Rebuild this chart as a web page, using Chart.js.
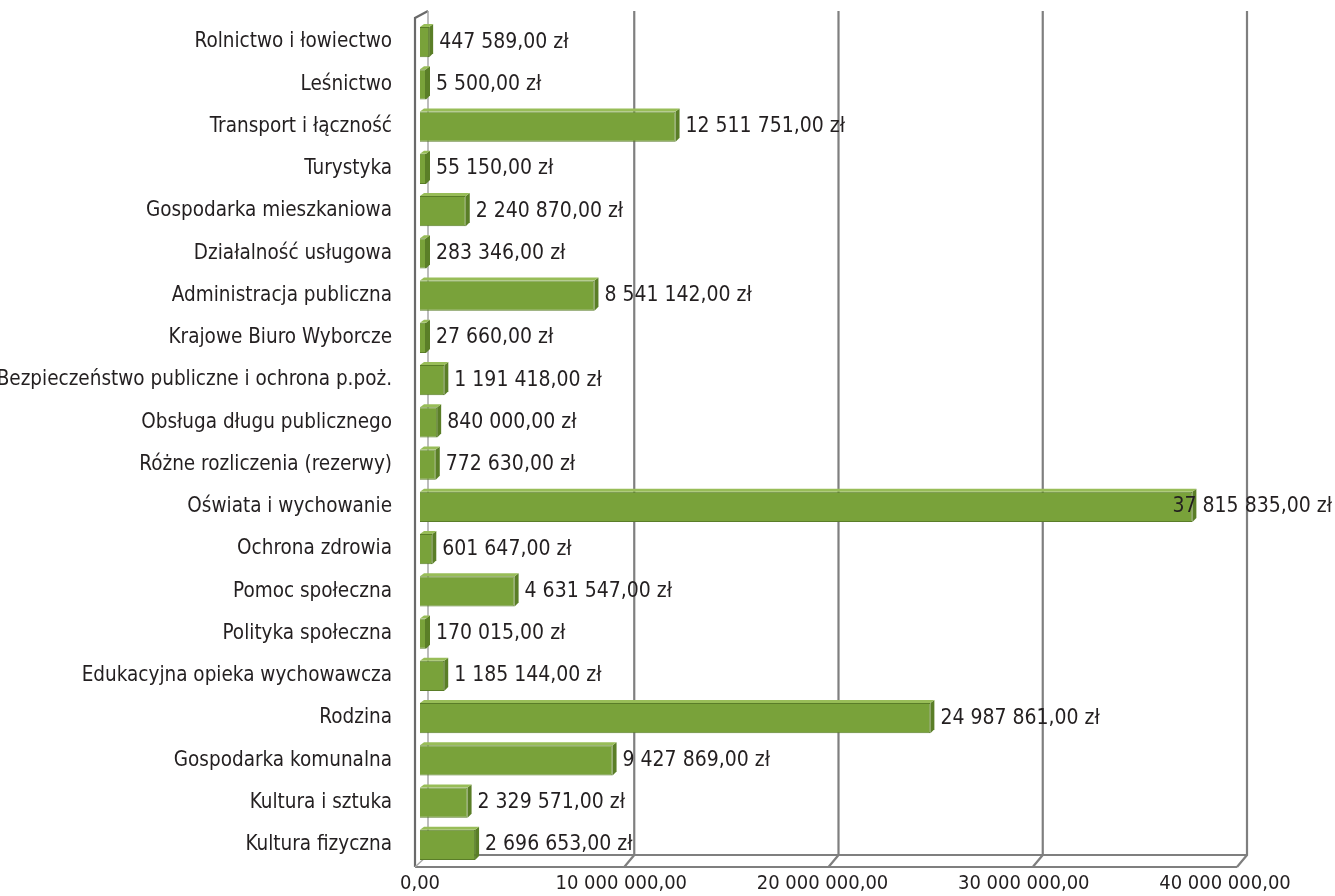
<!DOCTYPE html>
<html>
<head>
<meta charset="utf-8">
<script src="https://cdn.jsdelivr.net/npm/chart.js@4.4.1/dist/chart.umd.min.js"></script>
<style>
  html, body { margin: 0; padding: 0; background: #ffffff; }
  #wrap { width: 1335px; height: 896px; position: relative; }
</style>
</head>
<body>
<div id="wrap"><canvas id="c" width="1335" height="896"></canvas></div>
<script>
const categories = [
  "Rolnictwo i łowiectwo",
  "Leśnictwo",
  "Transport i łączność",
  "Turystyka",
  "Gospodarka mieszkaniowa",
  "Działalność usługowa",
  "Administracja publiczna",
  "Krajowe Biuro Wyborcze",
  "Bezpieczeństwo publiczne i ochrona p.poż.",
  "Obsługa długu publicznego",
  "Różne rozliczenia (rezerwy)",
  "Oświata i wychowanie",
  "Ochrona zdrowia",
  "Pomoc społeczna",
  "Polityka społeczna",
  "Edukacyjna opieka wychowawcza",
  "Rodzina",
  "Gospodarka komunalna",
  "Kultura i sztuka",
  "Kultura fizyczna"
];
const values = [
  447589, 5500, 12511751, 55150, 2240870, 283346, 8541142, 27660,
  1191418, 840000, 772630, 37815835, 601647, 4631547, 170015,
  1185144, 24987861, 9427869, 2329571, 2696653
];
const tickValues = [0, 10000000, 20000000, 30000000, 40000000];
const tickLabels = ["0,00", "10 000 000,00", "20 000 000,00", "30 000 000,00", "40 000 000,00"];

const FONT = "'DejaVu Sans Condensed', 'Liberation Sans Narrow', sans-serif";
const DX = 10, DY = 12;

function fmt(v) {
  const s = Math.round(v).toString().replace(/\B(?=(\d{3})+(?!\d))/g, " ");
  return s + ",00 zł";
}

const wallPlugin = {
  id: 'wall3d',
  beforeDatasetsDraw(chart) {
    const ctx = chart.ctx, xs = chart.scales.x;
    const top = 11, floorBack = 855, floorFront = 867;
    ctx.save();
    ctx.strokeStyle = '#7f7f7f';
    ctx.lineWidth = 2.2;
    tickValues.forEach((v, i) => {
      const x = xs.getPixelForValue(v);
      if (i === 0) return;
      ctx.beginPath();
      ctx.moveTo(x + DX, top);
      ctx.lineTo(x + DX, floorBack);
      ctx.lineTo(x, floorFront);
      ctx.stroke();
    });
    const x0 = xs.getPixelForValue(0), x1 = xs.getPixelForValue(40000000);
    ctx.beginPath();
    ctx.moveTo(x0 + DX, floorBack);
    ctx.lineTo(x1 + DX, floorBack);
    ctx.moveTo(x0 - 5, floorFront);
    ctx.lineTo(x1, floorFront);
    ctx.stroke();
    // left wall
    ctx.strokeStyle = '#6a6a6a';
    ctx.beginPath();
    ctx.moveTo(x0 - 5, floorFront);
    ctx.lineTo(x0 - 5, top + 7);
    ctx.lineTo(x0 + DX - 2, top);
    ctx.stroke();
    ctx.strokeStyle = '#a8a8a8';
    ctx.lineWidth = 1.5;
    ctx.beginPath();
    ctx.moveTo(x0 + DX - 2, top);
    ctx.lineTo(x0 + DX - 2, floorBack);
    ctx.lineTo(x0 - 5, floorFront);
    ctx.stroke();
    // x tick labels
    ctx.fillStyle = '#231f20';
    ctx.font = "20px " + FONT;
    ctx.textAlign = 'center';
    ctx.textBaseline = 'middle';
    tickValues.forEach((v, i) => {
      let x = xs.getPixelForValue(v) - i * 3;
      const w = ctx.measureText(tickLabels[i]).width;
      if (x + w / 2 > chart.width - 2) x = chart.width - 2 - w / 2;
      ctx.fillText(tickLabels[i], x, 884);
    });
    ctx.restore();
  },
  afterDatasetsDraw(chart) {
    const ctx = chart.ctx;
    const meta = chart.getDatasetMeta(0);
    ctx.save();
    meta.data.forEach((bar, i) => {
      const x = bar.x, y = bar.y, h = bar.height, b = bar.base;
      ctx.fillStyle = '#5a7e27';
      ctx.beginPath();
      ctx.moveTo(x, y - h / 2);
      ctx.lineTo(x + 4, y - h / 2 - 3);
      ctx.lineTo(x + 4, y + h / 2 - 4);
      ctx.lineTo(x, y + h / 2);
      ctx.closePath();
      ctx.fill();
      ctx.fillStyle = '#98bd58';
      ctx.beginPath();
      ctx.moveTo(b, y - h / 2);
      ctx.lineTo(b + 4, y - h / 2 - 3);
      ctx.lineTo(x + 4, y - h / 2 - 3);
      ctx.lineTo(x, y - h / 2);
      ctx.closePath();
      ctx.fill();
      ctx.fillStyle = '#231f20';
      ctx.font = "21px " + FONT;
      ctx.textAlign = 'left';
      ctx.textBaseline = 'middle';
      const txt = fmt(values[i]);
      let tx = x + 10;
      const w = ctx.measureText(txt).width;
      if (tx + w > chart.width - 3) tx = chart.width - 3 - w;
      ctx.fillText(txt, tx, y);
    });
    ctx.restore();
  }
};

new Chart(document.getElementById('c'), {
  type: 'bar',
  data: {
    labels: categories,
    datasets: [{
      data: values,
      backgroundColor: '#79a23a',
      borderColor: '#5a7d28',
      borderWidth: 1,
      barPercentage: 0.72,
      categoryPercentage: 1,
      minBarLength: 6
    }]
  },
  options: {
    indexAxis: 'y',
    responsive: false,
    animation: false,
    layout: { padding: { top: 21, right: 98, left: 0, bottom: 0 } },
    plugins: { legend: { display: false }, tooltip: { enabled: false }, title: { display: false } },
    scales: {
      x: {
        type: 'linear',
        min: 0, max: 40000000,
        afterBuildTicks(s) { s.ticks = tickValues.map(v => ({ value: v })); },
        afterFit(s) { s.height = 30; s.paddingLeft = 0; s.paddingRight = 0; },
        grid: { display: false },
        border: { display: false },
        ticks: { display: false }
      },
      y: {
        afterFit(s) { s.width = 420; s.paddingTop = 0; s.paddingBottom = 0; },
        grid: { display: false },
        border: { display: false },
        ticks: {
          color: '#231f20',
          font: { family: FONT, size: 20.5 },
          padding: 20,
          autoSkip: false
        }
      }
    }
  },
  plugins: [wallPlugin]
});
</script>
</body>
</html>
